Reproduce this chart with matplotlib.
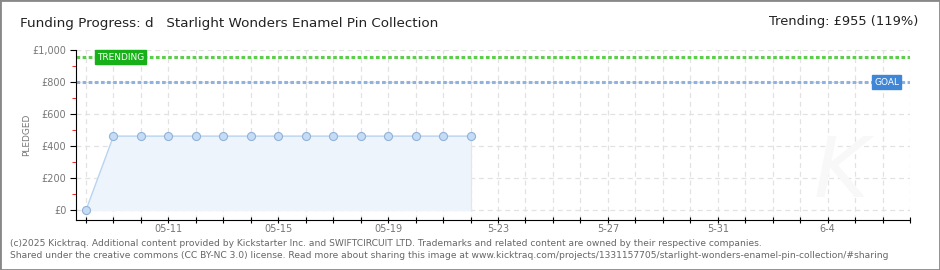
import numpy as np
import matplotlib.pyplot as plt
from matplotlib.patches import Rectangle

# --- dados ---
day_index = list(range(15))  # 05-08 .. 05-22
pledged = [0] + [462] * 14
goal = 800
trending = 955
tick_days = [3, 7, 11, 15, 19, 23, 27]
tick_labels = ['05-11', '05-15', '05-19', '5-23', '5-27', '5-31', '6-4']
y_ticks = [0, 200, 400, 600, 800, 1000]
y_labels = ['£0', '£200', '£400', '£600', '£800', '£1,000']
n_days = 30

title = 'Funding Progress: d   Starlight Wonders Enamel Pin Collection'
trend_text = 'Trending: £955 (119%)'
footer1 = ('(c)2025 Kicktraq. Additional content provided by Kickstarter Inc. and SWIFTCIRCUIT LTD. '
           'Trademarks and related content are owned by their respective companies.')
footer2 = ('Shared under the creative commons (CC BY-NC 3.0) license. Read more about sharing this image at '
           'www.kicktraq.com/projects/1331157705/starlight-wonders-enamel-pin-collection/#sharing')

fig = plt.figure(figsize=(9.4, 2.7), dpi=100)
fig.patches.append(Rectangle((0, 0), 1, 1, transform=fig.transFigure, fill=False,
                             edgecolor='#888888', linewidth=2))

ax = fig.add_axes([76 / 940, 1 - 220 / 270, (910 - 76) / 940, (220 - 50) / 270])
ax.set_xlim(-0.364, n_days)
ax.set_ylim(-62, 1000)

# grade
for d in range(n_days + 1):
    ax.axvline(d, color='#e2e2e2', linestyle=(0, (4, 3)), linewidth=0.9, zorder=0)
for yv in y_ticks:
    ax.axhline(yv, color='#e2e2e2', linestyle=(0, (4, 3)), linewidth=0.9, zorder=0)

# área e linha
ax.fill_between(day_index, pledged, 0, color='#eef4fc', zorder=1)
ax.plot([day_index[-1], day_index[-1]], [0, pledged[-1]], color='#dde8f5', linewidth=0.8, zorder=1)
ax.plot(day_index, pledged, color='#b8d4f2', linewidth=1, zorder=2)
ax.plot(day_index, pledged, linestyle='none', marker='o', markersize=5.8,
        markerfacecolor='#c4dcf6', markeredgecolor='#92b2d8', markeredgewidth=0.8, zorder=3)

# linhas de meta / tendência
ax.axhline(trending, color='#5ccf4a', linestyle=(0, (1.2, 0.8)), linewidth=2.2, zorder=2)
ax.axhline(goal, color='#8fb2e0', linestyle=(0, (1.2, 0.8)), linewidth=2.2, zorder=2)
ax.text(0.4, trending, 'TRENDING', color='white', fontsize=6.5, va='center', ha='left',
        zorder=5, bbox=dict(boxstyle='square,pad=0.25', facecolor='#18b018', edgecolor='#18b018'))
ax.text(29.6, goal, 'GOAL', color='white', fontsize=6.5, va='center', ha='right',
        zorder=5, bbox=dict(boxstyle='square,pad=0.25', facecolor='#3f87d6', edgecolor='#3f87d6'))

# marca d'água
ax.text(27.5, 230, 'K', fontsize=60, fontstyle='italic', color='#f8f8f8',
        ha='center', va='center', zorder=0)

# eixos
for s in ['top', 'right']:
    ax.spines[s].set_visible(False)
ax.spines['left'].set_color('black')
ax.spines['bottom'].set_color('black')
ax.set_xticks(range(n_days + 1))
ax.set_xticklabels(['' for _ in range(n_days + 1)])
for d, lab in zip(tick_days, tick_labels):
    ax.text(d, -0.055, lab, transform=ax.get_xaxis_transform(), ha='center', va='center',
            fontsize=7, color='#777777')
ax.tick_params(axis='x', length=4, direction='inout', color='black')
ax.set_yticks(y_ticks)
ax.set_yticklabels(y_labels, fontsize=7, color='#777777')
ax.set_yticks([100, 300, 500, 700, 900], minor=True)
ax.tick_params(axis='y', which='major', length=4, color='black', pad=3)
ax.tick_params(axis='y', which='minor', length=3, color='red')
ax.set_ylabel('PLEDGED', fontsize=6.5, color='#777777', labelpad=1)

# textos
fig.text(20 / 940, 1 - 24 / 270, title, fontsize=9.7, color='#222222', va='center', ha='left')
fig.text(918 / 940, 1 - 22 / 270, trend_text, fontsize=9.4, color='#222222', va='center', ha='right')
fig.text(10 / 940, 1 - 243 / 270, footer1, fontsize=6.6, color='#666666', va='center', ha='left')
fig.text(10 / 940, 1 - 256 / 270, footer2, fontsize=6.6, color='#666666', va='center', ha='left')

fig.savefig('out.png', dpi=100)
